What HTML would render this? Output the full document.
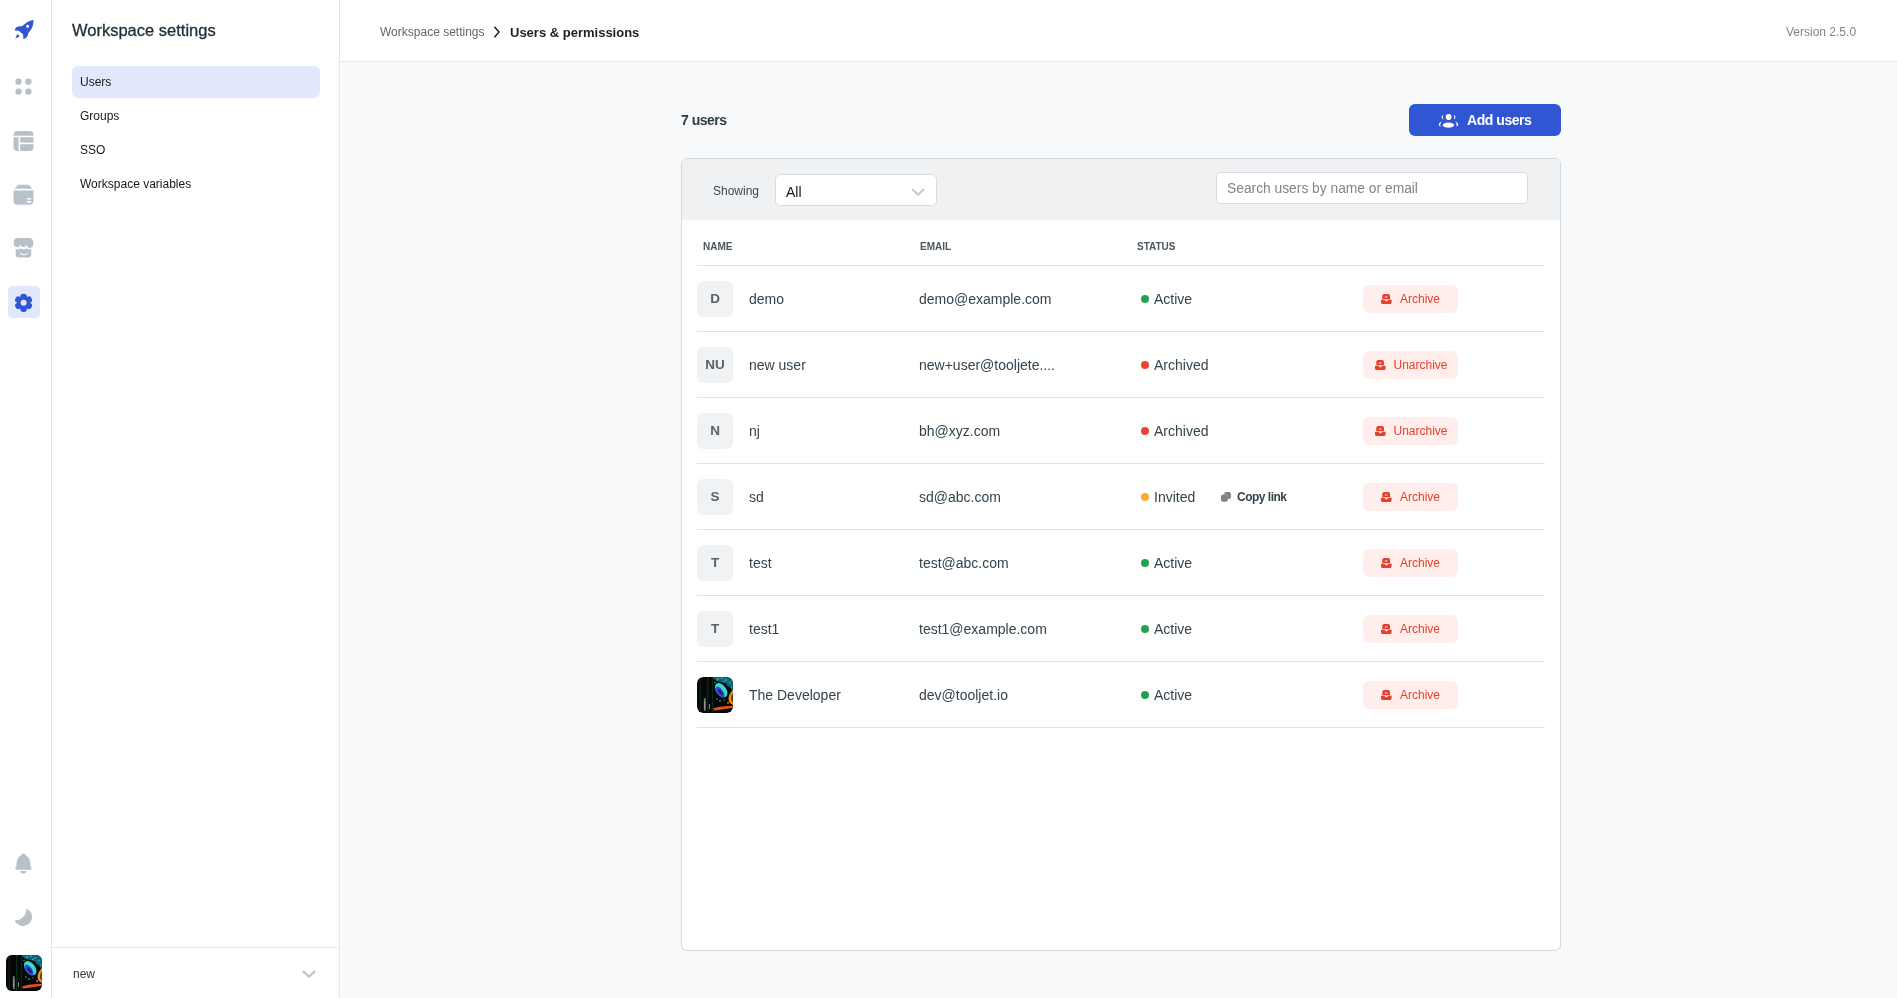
<!DOCTYPE html>
<html><head><meta charset="utf-8">
<style>
*{box-sizing:border-box;margin:0;padding:0}
html,body{width:1897px;height:998px;overflow:hidden;background:#fff;font-family:"Liberation Sans",sans-serif;color:#11181c}
.abs{position:absolute}
#rail,#panel,#hdr,#main{will-change:transform}
#rail{position:absolute;left:0;top:0;width:52px;height:998px;border-right:1px solid #e6e8eb;background:#fff}
#panel{position:absolute;left:52px;top:0;width:288px;height:998px;border-right:1px solid #e6e8eb;background:#fff}
#hdr{position:absolute;left:340px;top:0;width:1557px;height:62px;border-bottom:1px solid #e6e8eb;background:#fff}
#main{position:absolute;left:340px;top:62px;width:1557px;height:936px;background:#f8f9fa}
.t{position:absolute;white-space:nowrap;line-height:1}
.nav{position:absolute;left:20px;width:248px;height:32px;border-radius:6px;font-size:12px;padding-left:8px;line-height:32px;color:#11181c}
.nav.on{background:#e2e9fc}
#card{position:absolute;left:341px;top:96px;width:880px;height:793px;border:1px solid #d3d8dc;border-radius:6px;background:#fff;overflow:hidden}
#band{position:absolute;left:0;top:0;width:878px;height:61px;background:#eff1f3}
.sel{position:absolute;left:93px;top:15px;width:162px;height:32px;background:#fff;border:1px solid #d7dbdf;border-radius:5px}
.search{position:absolute;left:534px;top:13px;width:312px;height:32px;background:#fff;border:1px solid #d7dbdf;border-radius:5px}
.th{position:absolute;top:81.5px;font-size:10px;font-weight:bold;letter-spacing:0;color:#4c5661}
.hline{position:absolute;left:15px;width:848px;height:1px;background:#dfe3e6}
.row{position:absolute;left:15px;width:848px;height:66px}
.av{position:absolute;left:0;top:15px;width:36px;height:36px;border-radius:6px;background:#f0f2f4;color:#5a6269;font-weight:bold;font-size:13.5px;text-align:center;line-height:36px}
.nm{position:absolute;left:52px;top:26px;font-size:14px;color:#33444d;line-height:1;white-space:nowrap}
.em{position:absolute;left:222px;top:26px;font-size:14px;color:#33444d;line-height:1;white-space:nowrap}
.st{position:absolute;left:457px;top:26px;font-size:14px;color:#33444d;line-height:1;white-space:nowrap}
.dot{position:absolute;left:444px;top:29px;width:8px;height:8px;border-radius:50%}
.arc{position:absolute;left:666px;top:19px;height:28px;border-radius:6px;background:#ffeeeb;color:#e5402c;font-size:12px;line-height:28px;white-space:nowrap}
</style></head>
<body>
<div id="rail"><svg id="railsvg" width="52" height="998" viewBox="0 0 52 998" style="position:absolute;left:0;top:0">
<defs>
<clipPath id="tblclip"><rect x="13.5" y="131" width="20" height="20" rx="4"/></clipPath>
<clipPath id="dbclip"><rect x="13.5" y="181" width="20" height="24" rx="4"/></clipPath>
<clipPath id="avclip"><rect x="6" y="955" width="36" height="36" rx="6"/></clipPath>
</defs>
<!-- rocket -->
<g fill="#3056d3">
<path d="M33.6 20.1 C30.5 20.6 27.8 21.6 25.8 23.2 L21.8 26.2 C19.6 26.1 17.4 26.6 16 27.6 L14.4 30.4 L18.9 30.7 L23.1 34.6 L23.4 39.3 L26.4 37.4 C27.4 36.3 28 34.6 28.2 33.2 L31.1 29.4 C32.6 27.4 33.4 24.4 33.6 20.1 Z M27.6 24.8 A1.5 1.5 0 1 0 27.6 27.8 A1.5 1.5 0 1 0 27.6 24.8 Z" fill-rule="evenodd"/>
<path d="M17.4 34 L19.8 36.3 L15.3 38.8 Z"/>
</g>
<!-- apps dots -->
<g fill="#b9c1c8">
<rect x="15.4" y="78.5" width="6.2" height="6.2" rx="2.6"/>
<rect x="25.3" y="78.5" width="6.2" height="6.2" rx="2.6"/>
<rect x="15.4" y="88.5" width="6.2" height="6.2" rx="2.6"/>
<rect x="25.3" y="88.5" width="6.2" height="6.2" rx="2.6"/>
</g>
<!-- table icon -->
<g fill="#b9c1c8" clip-path="url(#tblclip)">
<rect x="13" y="130" width="21" height="5.7"/>
<rect x="13" y="137.2" width="5.6" height="15"/>
<rect x="20.2" y="137.2" width="14" height="5.4"/>
<rect x="20.2" y="144.2" width="14" height="8"/>
</g>
<!-- database icon -->
<g fill="#b9c1c8">
<path d="M14.4 188.8 L17.6 185.6 C18.2 185 18.9 184.8 19.6 184.8 L27.4 184.8 C28.1 184.8 28.8 185 29.4 185.6 L32.7 188.8 Z"/>
<path d="M13.5 190.5 H33.5 V200.8 A4 4 0 0 1 29.5 204.8 H17.5 A4 4 0 0 1 13.5 200.8 Z M26.9 197.9 V199.5 H31.2 V197.9 Z M26.9 201 V202.7 H31.2 V201 Z" fill-rule="evenodd"/>
</g>
<!-- store icon -->
<g fill="#b9c1c8">
<path d="M17.5 237.9 H29.5 C31.5 237.9 33.2 239.6 33.2 241.6 V244.6 A3.3 3.3 0 0 1 26.6 244.6 A3.3 3.3 0 0 1 20.3 244.6 A3.3 3.3 0 0 1 13.8 244.6 V241.6 C13.8 239.6 15.5 237.9 17.5 237.9 Z"/>
<path d="M15.7 249 C17 249.6 19.2 249.6 20.3 248.2 C21.6 249.8 25.3 249.8 26.6 248.2 C27.8 249.6 30 249.6 31.2 249 V254.6 A3 3 0 0 1 28.2 257.6 H18.7 A3 3 0 0 1 15.7 254.6 Z M20.2 252.3 C22.5 254.8 25 254.8 27.6 252.3 L27.9 253 C25.2 256 22.4 256 19.9 253 Z" fill-rule="evenodd"/>
</g>
<!-- settings active -->
<rect x="8" y="286" width="32" height="32" rx="4" fill="#e1e8fb"/>
<g fill="#3056d3" transform="translate(23.6 302.8)">
<circle r="6.6"/>
<rect x="-3.2" y="-9.1" width="6.4" height="9.1" rx="2.7" transform="rotate(0)"/>
<rect x="-3.2" y="-9.1" width="6.4" height="9.1" rx="2.7" transform="rotate(60)"/>
<rect x="-3.2" y="-9.1" width="6.4" height="9.1" rx="2.7" transform="rotate(120)"/>
<rect x="-3.2" y="-9.1" width="6.4" height="9.1" rx="2.7" transform="rotate(180)"/>
<rect x="-3.2" y="-9.1" width="6.4" height="9.1" rx="2.7" transform="rotate(240)"/>
<rect x="-3.2" y="-9.1" width="6.4" height="9.1" rx="2.7" transform="rotate(300)"/>
<circle r="3" fill="#e1e8fb"/>
</g>
<!-- bell -->
<g fill="#b9c1c8">
<path d="M23.4 853.6 C24.6 853.6 25.4 854.6 26.2 855.8 C28.6 857 30 859.2 30.2 862 L30.4 865.8 C30.6 867 31.6 867.8 31.6 868.6 C31.6 869.3 31.1 869.7 30.4 869.7 H16.4 C15.7 869.7 15.3 869.3 15.3 868.6 C15.3 867.8 16.3 867 16.5 865.8 L16.7 862 C16.9 859.2 18.3 857 20.6 855.8 C21.4 854.6 22.2 853.6 23.4 853.6 Z"/>
<path d="M20.2 871 H26.4 C26 872.8 24.9 873.6 23.3 873.6 C21.7 873.6 20.6 872.8 20.2 871 Z"/>
</g>
<!-- moon -->
<path fill="#b9c1c8" d="M26.4 908.6 A9 9 0 1 1 14.7 920.2 A11 11 0 0 0 26.4 908.6 Z"/>
<!-- avatar -->
<svg x="6" y="955" width="36" height="36" viewBox="0 0 36 36"><defs><clipPath id="avclip2"><rect width="36" height="36" rx="6"/></clipPath></defs><g clip-path="url(#avclip2)"><rect width="36" height="36" fill="#050806"/>
<rect x="2.6" y="0" width="1.4" height="36" fill="#0f1f15"/>
<rect x="10.2" y="0" width="1.2" height="36" fill="#124a2c" opacity="0.6"/>
<rect x="14.8" y="0" width="1" height="36" fill="#0d3020"/>
<rect x="6.8" y="21" width="2" height="13" fill="#5f6a62"/>
<rect x="7.3" y="24" width="1" height="8" fill="#a0aaa4"/>
<rect x="12" y="27" width="1" height="5" fill="#7d8a84"/>
<path d="M16 0 H36 V16 C34 10 29 5 22 4.5 C19 4.3 16.5 3 16 0 Z" fill="#0e6478"/>
<circle cx="21" cy="2" r="0.9" fill="#30c0d8"/><circle cx="25" cy="1.2" r="0.9" fill="#2ab0d0"/><circle cx="29" cy="3" r="1" fill="#28a8d0"/><circle cx="33" cy="5.5" r="1" fill="#2498c8"/><circle cx="34.5" cy="10" r="0.9" fill="#2090c0"/><circle cx="18" cy="5.5" r="0.8" fill="#25b080"/><circle cx="31" cy="8.5" r="0.8" fill="#1a88a8"/><circle cx="27" cy="4.5" r="0.7" fill="#40d0e0"/>
<ellipse cx="24.2" cy="13.2" rx="8" ry="5" fill="#38dccb" transform="rotate(53 24.2 13.2)"/>
<ellipse cx="23" cy="15" rx="6.4" ry="3.1" fill="#2f4ee0" transform="rotate(53 23 15)"/>
<ellipse cx="23.4" cy="15.2" rx="3.8" ry="1.5" fill="#2a2070" transform="rotate(53 23.4 15.2)"/>
<path d="M36 13 C33.5 15 31.5 18.5 31.5 22 C31.5 25 33.5 27 36 28 Z" fill="#e6921e"/><path d="M36 16 C34.5 18 34 20 34 22 C34 24 35 25 36 25.5 Z" fill="#6a3a10"/>
<circle cx="20" cy="22" r="0.9" fill="#17805a"/><circle cx="23" cy="24" r="0.9" fill="#20a070"/><circle cx="27" cy="23" r="0.8" fill="#1a9070"/>
<path d="M16 31.5 C21 29.5 28 29 36 28.8 V30.8 C30 31.6 23 33 17 33.6 Z" fill="#e4501c"/>
<circle cx="31" cy="26" r="0.9" fill="#f07a18"/><circle cx="34" cy="25" r="0.8" fill="#f0a030"/>
</g></svg>
</svg></div>
<div id="panel">
  <div class="t" style="left:20px;top:22px;font-size:16.5px;color:#1c2f38;-webkit-text-stroke:0.3px #1c2f38">Workspace settings</div>
  <div class="nav on" style="top:66px">Users</div>
  <div class="nav" style="top:100px">Groups</div>
  <div class="nav" style="top:134px">SSO</div>
  <div class="nav" style="top:168px">Workspace variables</div>
  <div class="abs" style="left:0;top:947px;width:287px;height:1px;background:#e6e8eb"></div>
  <div class="t" style="left:21px;top:968px;font-size:12px;color:#2b3840">new</div>
  <svg width="14" height="9" viewBox="0 0 14 9" style="position:absolute;left:250px;top:970px"><path d="M1.6 1.6 L7 6.8 L12.4 1.6" fill="none" stroke="#c2c4c6" stroke-width="2.2" stroke-linecap="round" stroke-linejoin="round"/></svg>
</div>
<div id="hdr">
  <div class="t" style="left:40px;top:26px;font-size:12px;color:#5f676d">Workspace settings</div>
  <svg width="8" height="12" viewBox="0 0 8 12" style="position:absolute;left:153px;top:26px"><path d="M1.8 1.2 L6 6 L1.8 10.8" fill="none" stroke="#11181c" stroke-width="1.4" stroke-linecap="round" stroke-linejoin="round"/></svg>
  <div class="t" style="left:170px;top:25.5px;font-size:13px;font-weight:bold;color:#182127">Users &amp; permissions</div>
  <div class="t" style="left:1446px;top:26px;font-size:12px;color:#7e868c">Version 2.5.0</div>
</div>
<div id="main">
  <div class="t" style="left:341px;top:51.2px;font-size:14px;font-weight:bold;letter-spacing:-0.5px;color:#2a3b44">7 users</div>
  <div class="abs" style="left:1069px;top:42px;width:152px;height:32px;border-radius:6px;background:#3056d3"></div>
  <svg width="22" height="18" viewBox="0 0 22 18" style="position:absolute;left:1097px;top:49px"><g fill="#fff"><circle cx="11.6" cy="6" r="2.9"/><ellipse cx="11.4" cy="14.2" rx="5.6" ry="2.6"/><path d="M6.2 3.8 C5 4.6 4.6 5.6 4.8 6.6 C5 7.6 5.6 8.2 6.4 8.6 C5.8 7.2 5.8 5.2 6.2 3.8 Z"/><path d="M17 3.8 C18.2 4.6 18.6 5.6 18.4 6.6 C18.2 7.6 17.6 8.2 16.8 8.6 C17.4 7.2 17.4 5.2 17 3.8 Z"/><path d="M4.6 10.6 C2.6 11.6 1.8 12.8 1.8 13.8 C1.8 14.6 2.4 15.2 3.6 15.6 C3 14.6 3.2 12.6 4.6 10.6 Z"/><path d="M18.4 10.6 C20.4 11.6 21.2 12.8 21.2 13.8 C21.2 14.6 20.6 15.2 19.4 15.6 C20 14.6 19.8 12.6 18.4 10.6 Z"/></g></svg>
  <div class="t" style="left:1127px;top:51.2px;font-size:14px;font-weight:bold;letter-spacing:-0.45px;color:#fff">Add users</div>
  <div id="card">
    <div id="band">
      <div class="t" style="left:31px;top:25.5px;font-size:12px;color:#3c4750">Showing</div>
      <div class="sel"><div class="t" style="left:10px;top:9.5px;font-size:14px;color:#11181c">All</div><svg width="14" height="9" viewBox="0 0 14 9" style="position:absolute;left:135px;top:13px"><path d="M1.6 1.6 L7 6.8 L12.4 1.6" fill="none" stroke="#c3c7cb" stroke-width="2" stroke-linecap="round" stroke-linejoin="round"/></svg></div>
      <div class="search"><div class="t" style="left:10px;top:8.5px;font-size:13.8px;color:#7e868c">Search users by name or email</div></div>
    </div>
    <div class="th" style="left:21px">NAME</div>
    <div class="th" style="left:238px">EMAIL</div>
    <div class="th" style="left:455px">STATUS</div>
    <div class="hline" style="top:106px"></div>
<div class="row" style="top:107px"><div class="av">D</div><div class="nm">demo</div><div class="em">demo@example.com</div><div class="dot" style="background:#22a155"></div><div class="st">Active</div><div class="arc" style="width:95px"><svg width="11" height="10" viewBox="0 0 11 10" style="position:absolute;left:18px;top:9px"><path fill="#e5402c" fill-rule="evenodd" d="M3.2 0 H7 A2 2 0 0 1 9 2 V5.3 H1.3 V2 A2 2 0 0 1 3.2 0 Z M3.9 2.6 V3.5 H6.4 V2.6 Z"/><path fill="#e5402c" d="M0 5.8 H3 L5.4 7.6 L7.8 5.8 H10.6 V8.6 A1.4 1.4 0 0 1 9.2 10 H1.4 A1.4 1.4 0 0 1 0 8.6 Z"/></svg><span style="position:absolute;left:37px;top:0">Archive</span></div></div>
    <div class="hline" style="top:172px"></div>
<div class="row" style="top:173px"><div class="av">NU</div><div class="nm">new user</div><div class="em">new+user@tooljete....</div><div class="dot" style="background:#ea4433"></div><div class="st">Archived</div><div class="arc" style="width:95px"><svg width="11" height="10" viewBox="0 0 11 10" style="position:absolute;left:12px;top:9px"><path fill="#e5402c" fill-rule="evenodd" d="M3.2 0 H7 A2 2 0 0 1 9 2 V5.3 H1.3 V2 A2 2 0 0 1 3.2 0 Z M3.9 2.6 V3.5 H6.4 V2.6 Z"/><path fill="#e5402c" d="M0 5.8 H3 L5.4 7.6 L7.8 5.8 H10.6 V8.6 A1.4 1.4 0 0 1 9.2 10 H1.4 A1.4 1.4 0 0 1 0 8.6 Z"/></svg><span style="position:absolute;left:30.5px;top:0">Unarchive</span></div></div>
    <div class="hline" style="top:238px"></div>
<div class="row" style="top:239px"><div class="av">N</div><div class="nm">nj</div><div class="em">bh@xyz.com</div><div class="dot" style="background:#ea4433"></div><div class="st">Archived</div><div class="arc" style="width:95px"><svg width="11" height="10" viewBox="0 0 11 10" style="position:absolute;left:12px;top:9px"><path fill="#e5402c" fill-rule="evenodd" d="M3.2 0 H7 A2 2 0 0 1 9 2 V5.3 H1.3 V2 A2 2 0 0 1 3.2 0 Z M3.9 2.6 V3.5 H6.4 V2.6 Z"/><path fill="#e5402c" d="M0 5.8 H3 L5.4 7.6 L7.8 5.8 H10.6 V8.6 A1.4 1.4 0 0 1 9.2 10 H1.4 A1.4 1.4 0 0 1 0 8.6 Z"/></svg><span style="position:absolute;left:30.5px;top:0">Unarchive</span></div></div>
    <div class="hline" style="top:304px"></div>
<div class="row" style="top:305px"><div class="av">S</div><div class="nm">sd</div><div class="em">sd@abc.com</div><div class="dot" style="background:#fba834"></div><div class="st">Invited</div><svg width="11" height="11" viewBox="0 0 11 11" style="position:absolute;left:524px;top:26.5px"><rect x="3.2" y="1" width="6.8" height="7" rx="2.2" fill="#7b848b"/><rect x="0" y="3.6" width="6.9" height="7.2" rx="2.2" fill="#fff"/><rect x="1" y="4.6" width="6.9" height="7.1" rx="2.2" fill="#7b848b" transform="translate(-1 -1)"/></svg><div class="t" style="left:540px;top:27px;font-size:12px;font-weight:bold;letter-spacing:-0.5px;color:#34424a">Copy link</div><div class="arc" style="width:95px"><svg width="11" height="10" viewBox="0 0 11 10" style="position:absolute;left:18px;top:9px"><path fill="#e5402c" fill-rule="evenodd" d="M3.2 0 H7 A2 2 0 0 1 9 2 V5.3 H1.3 V2 A2 2 0 0 1 3.2 0 Z M3.9 2.6 V3.5 H6.4 V2.6 Z"/><path fill="#e5402c" d="M0 5.8 H3 L5.4 7.6 L7.8 5.8 H10.6 V8.6 A1.4 1.4 0 0 1 9.2 10 H1.4 A1.4 1.4 0 0 1 0 8.6 Z"/></svg><span style="position:absolute;left:37px;top:0">Archive</span></div></div>
    <div class="hline" style="top:370px"></div>
<div class="row" style="top:371px"><div class="av">T</div><div class="nm">test</div><div class="em">test@abc.com</div><div class="dot" style="background:#22a155"></div><div class="st">Active</div><div class="arc" style="width:95px"><svg width="11" height="10" viewBox="0 0 11 10" style="position:absolute;left:18px;top:9px"><path fill="#e5402c" fill-rule="evenodd" d="M3.2 0 H7 A2 2 0 0 1 9 2 V5.3 H1.3 V2 A2 2 0 0 1 3.2 0 Z M3.9 2.6 V3.5 H6.4 V2.6 Z"/><path fill="#e5402c" d="M0 5.8 H3 L5.4 7.6 L7.8 5.8 H10.6 V8.6 A1.4 1.4 0 0 1 9.2 10 H1.4 A1.4 1.4 0 0 1 0 8.6 Z"/></svg><span style="position:absolute;left:37px;top:0">Archive</span></div></div>
    <div class="hline" style="top:436px"></div>
<div class="row" style="top:437px"><div class="av">T</div><div class="nm">test1</div><div class="em">test1@example.com</div><div class="dot" style="background:#22a155"></div><div class="st">Active</div><div class="arc" style="width:95px"><svg width="11" height="10" viewBox="0 0 11 10" style="position:absolute;left:18px;top:9px"><path fill="#e5402c" fill-rule="evenodd" d="M3.2 0 H7 A2 2 0 0 1 9 2 V5.3 H1.3 V2 A2 2 0 0 1 3.2 0 Z M3.9 2.6 V3.5 H6.4 V2.6 Z"/><path fill="#e5402c" d="M0 5.8 H3 L5.4 7.6 L7.8 5.8 H10.6 V8.6 A1.4 1.4 0 0 1 9.2 10 H1.4 A1.4 1.4 0 0 1 0 8.6 Z"/></svg><span style="position:absolute;left:37px;top:0">Archive</span></div></div>
    <div class="hline" style="top:502px"></div>
<div class="row" style="top:503px"><svg class="av" style="background:none" width="36" height="36" viewBox="0 0 36 36"><defs><clipPath id="dvclip"><rect width="36" height="36" rx="6"/></clipPath></defs><g clip-path="url(#dvclip)"><rect width="36" height="36" fill="#050806"/>
<rect x="2.6" y="0" width="1.4" height="36" fill="#0f1f15"/>
<rect x="10.2" y="0" width="1.2" height="36" fill="#124a2c" opacity="0.6"/>
<rect x="14.8" y="0" width="1" height="36" fill="#0d3020"/>
<rect x="6.8" y="21" width="2" height="13" fill="#5f6a62"/>
<rect x="7.3" y="24" width="1" height="8" fill="#a0aaa4"/>
<rect x="12" y="27" width="1" height="5" fill="#7d8a84"/>
<path d="M16 0 H36 V16 C34 10 29 5 22 4.5 C19 4.3 16.5 3 16 0 Z" fill="#0e6478"/>
<circle cx="21" cy="2" r="0.9" fill="#30c0d8"/><circle cx="25" cy="1.2" r="0.9" fill="#2ab0d0"/><circle cx="29" cy="3" r="1" fill="#28a8d0"/><circle cx="33" cy="5.5" r="1" fill="#2498c8"/><circle cx="34.5" cy="10" r="0.9" fill="#2090c0"/><circle cx="18" cy="5.5" r="0.8" fill="#25b080"/><circle cx="31" cy="8.5" r="0.8" fill="#1a88a8"/><circle cx="27" cy="4.5" r="0.7" fill="#40d0e0"/>
<ellipse cx="24.2" cy="13.2" rx="8" ry="5" fill="#38dccb" transform="rotate(53 24.2 13.2)"/>
<ellipse cx="23" cy="15" rx="6.4" ry="3.1" fill="#2f4ee0" transform="rotate(53 23 15)"/>
<ellipse cx="23.4" cy="15.2" rx="3.8" ry="1.5" fill="#2a2070" transform="rotate(53 23.4 15.2)"/>
<path d="M36 13 C33.5 15 31.5 18.5 31.5 22 C31.5 25 33.5 27 36 28 Z" fill="#e6921e"/><path d="M36 16 C34.5 18 34 20 34 22 C34 24 35 25 36 25.5 Z" fill="#6a3a10"/>
<circle cx="20" cy="22" r="0.9" fill="#17805a"/><circle cx="23" cy="24" r="0.9" fill="#20a070"/><circle cx="27" cy="23" r="0.8" fill="#1a9070"/>
<path d="M16 31.5 C21 29.5 28 29 36 28.8 V30.8 C30 31.6 23 33 17 33.6 Z" fill="#e4501c"/>
<circle cx="31" cy="26" r="0.9" fill="#f07a18"/><circle cx="34" cy="25" r="0.8" fill="#f0a030"/>
</g></svg><div class="nm">The Developer</div><div class="em">dev@tooljet.io</div><div class="dot" style="background:#22a155"></div><div class="st">Active</div><div class="arc" style="width:95px"><svg width="11" height="10" viewBox="0 0 11 10" style="position:absolute;left:18px;top:9px"><path fill="#e5402c" fill-rule="evenodd" d="M3.2 0 H7 A2 2 0 0 1 9 2 V5.3 H1.3 V2 A2 2 0 0 1 3.2 0 Z M3.9 2.6 V3.5 H6.4 V2.6 Z"/><path fill="#e5402c" d="M0 5.8 H3 L5.4 7.6 L7.8 5.8 H10.6 V8.6 A1.4 1.4 0 0 1 9.2 10 H1.4 A1.4 1.4 0 0 1 0 8.6 Z"/></svg><span style="position:absolute;left:37px;top:0">Archive</span></div></div>
    <div class="hline" style="top:568px"></div>
  </div>
</div>
</body></html>
